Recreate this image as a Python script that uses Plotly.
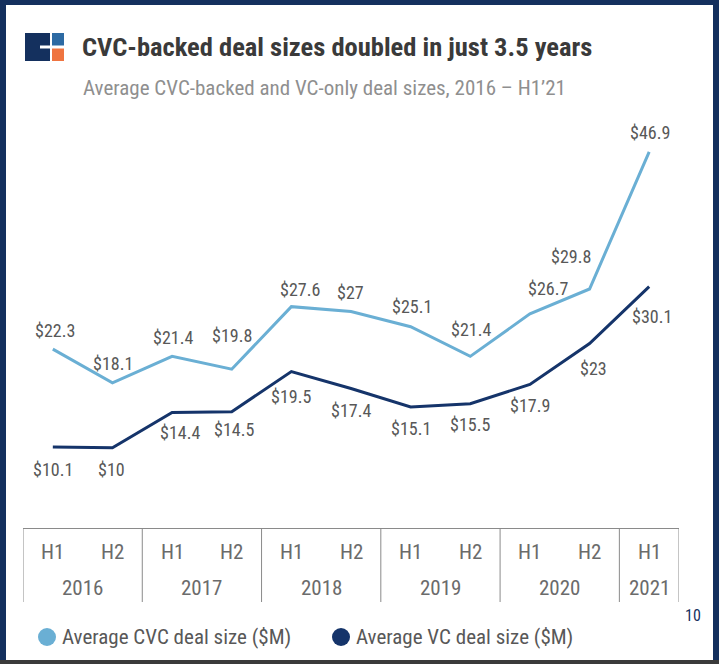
import plotly.graph_objects as go

# ---------------- data ----------------
halves = ["H1", "H2", "H1", "H2", "H1", "H2", "H1", "H2", "H1", "H2", "H1"]
years = ["2016", "2017", "2018", "2019", "2020", "2021"]
year_spans = [2, 2, 2, 2, 2, 1]          # number of half-years per year
cvc_values = [22.3, 18.1, 21.4, 19.8, 27.6, 27, 25.1, 21.4, 26.7, 29.8, 46.9]
vc_values = [10.1, 10, 14.4, 14.5, 19.5, 17.4, 15.1, 15.5, 17.9, 23, 30.1]
series_names = ["Average CVC deal size ($M)", "Average VC deal size ($M)"]
title_text = "CVC-backed deal sizes doubled in just 3.5 years"
subtitle_text = "Average CVC-backed and VC-only deal sizes, 2016 \u2013 H1\u201921"
page_number = "10"

# ---------------- styling ----------------
W, H = 719, 664
ML, MR, MT, MB = 23, 40, 110, 136
PW, PH = W - ML - MR, H - MT - MB
CVC_COLOR = "#6aafd4"
VC_COLOR = "#15346a"
NAVY = "#14305e"
TEXT_GRAY = "#585858"
LIGHT_GRAY = "#8f8f8f"
AXIS_GRAY = "#6b6b6b"
BOX_GRAY = "#8a8a8a"
FONT = "Roboto Condensed, Roboto, Arial Narrow, sans-serif"

# label offsets (pixels) relative to each point
cvc_off = [(2, -19), (1, -19), (1, -19), (0, -34), (9, -17), (-1, -19),
           (1, -20), (1, -27), (18, -25), (-19, -33), (1, -19)]
vc_off = [(0, 22), (-1, 22), (8, 20), (2, 18), (0, 25), (0, 22),
          (0, 22), (0, 21), (0, 21), (4, 25), (3, 30)]


def px(x):
    return (x - ML) / PW


def py(y):
    return (H - MB - y) / PH


xs = list(range(len(halves)))

fig = go.Figure()
fig.add_trace(go.Scatter(x=xs, y=cvc_values, mode="lines", name=series_names[0],
                         line=dict(color=CVC_COLOR, width=3), showlegend=False,
                         hoverinfo="skip"))
fig.add_trace(go.Scatter(x=xs, y=vc_values, mode="lines", name=series_names[1],
                         line=dict(color=VC_COLOR, width=3), showlegend=False,
                         hoverinfo="skip"))

annotations = []
shapes = []

# data labels
for vals, offs in ((cvc_values, cvc_off), (vc_values, vc_off)):
    for i, v in enumerate(vals):
        annotations.append(dict(x=i, y=v, xref="x", yref="y", text=f"${v:g}",
                                showarrow=False, xshift=offs[i][0], yshift=-offs[i][1],
                                font=dict(family=FONT, size=18, color=TEXT_GRAY)))

# half-year labels
for i, hname in enumerate(halves):
    annotations.append(dict(x=i, y=0, xref="x", yref="paper", text=hname,
                            showarrow=False, yanchor="middle", yshift=-24,
                            font=dict(family=FONT, size=21, color=AXIS_GRAY)))

# year labels and dividers
start = -0.5
bounds = [start]
for yname, span in zip(years, year_spans):
    center = start + span / 2
    annotations.append(dict(x=center, y=0, xref="x", yref="paper", text=yname,
                            showarrow=False, yanchor="middle", yshift=-60,
                            font=dict(family=FONT, size=21, color=AXIS_GRAY)))
    start += span
    bounds.append(start)
for b in bounds:
    shapes.append(dict(type="line", xref="x", yref="paper", x0=b, x1=b,
                       y0=0, y1=py(602), line=dict(color=BOX_GRAY, width=1)))

# frame / background
shapes.append(dict(type="rect", xref="paper", yref="paper", layer="below",
                   x0=px(6), x1=px(713), y0=py(660), y1=py(5),
                   fillcolor="white", line=dict(width=0)))
shapes.append(dict(type="rect", xref="paper", yref="paper", layer="above",
                   x0=px(0), x1=px(W), y0=py(H), y1=py(660),
                   fillcolor="#3a3a3a", line=dict(width=0)))

# logo
shapes.append(dict(type="rect", xref="paper", yref="paper", x0=px(25), x1=px(50),
                   y0=py(61), y1=py(33), fillcolor=NAVY, line=dict(width=0)))
shapes.append(dict(type="rect", xref="paper", yref="paper", x0=px(40), x1=px(52),
                   y0=py(48.5), y1=py(45.5), fillcolor="white", line=dict(width=0)))
shapes.append(dict(type="rect", xref="paper", yref="paper", x0=px(52), x1=px(64),
                   y0=py(45.5), y1=py(33), fillcolor="#2d6aa3", line=dict(width=0)))
shapes.append(dict(type="rect", xref="paper", yref="paper", x0=px(52), x1=px(64),
                   y0=py(61), y1=py(48.5), fillcolor="#ef7440", line=dict(width=0)))

# title, subtitle
annotations.append(dict(x=px(80), y=py(46), xref="paper", yref="paper", text=f"<b>{title_text}</b>",
                        showarrow=False, xanchor="left", yanchor="middle",
                        font=dict(family=FONT, size=26.5, color="#3a3a3a")))
annotations.append(dict(x=px(81), y=py(88), xref="paper", yref="paper", text=subtitle_text,
                        showarrow=False, xanchor="left", yanchor="middle",
                        font=dict(family=FONT, size=21, color=LIGHT_GRAY)))

# legend (custom)
for cx, color, name in ((47, CVC_COLOR, series_names[0]), (341, VC_COLOR, series_names[1])):
    shapes.append(dict(type="circle", xref="paper", yref="paper",
                       x0=px(cx - 9), x1=px(cx + 9), y0=py(646), y1=py(628),
                       fillcolor=color, line=dict(width=0)))
    annotations.append(dict(x=px(cx + 13), y=py(637), xref="paper", yref="paper", text=name,
                            showarrow=False, xanchor="left", yanchor="middle",
                            font=dict(family=FONT, size=21, color=TEXT_GRAY)))

# page number
annotations.append(dict(x=px(693), y=py(615), xref="paper", yref="paper", text=page_number,
                        showarrow=False, xanchor="center", yanchor="middle",
                        font=dict(family=FONT, size=16, color=NAVY)))

fig.update_layout(
    width=W, height=H,
    margin=dict(l=ML, r=MR, t=MT, b=MB, pad=0),
    paper_bgcolor=NAVY,
    plot_bgcolor="rgba(0,0,0,0)",
    showlegend=False,
    annotations=annotations,
    shapes=shapes,
    xaxis=dict(range=[-0.5, len(halves) - 0.5], showgrid=False, zeroline=False,
               showticklabels=False, ticks="", showline=True, linecolor=BOX_GRAY,
               linewidth=1, fixedrange=True),
    yaxis=dict(range=[0, PH / 8.02], showgrid=False, zeroline=False,
               showticklabels=False, ticks="", showline=False, fixedrange=True),
)

fig.write_html("out.html", config={"displayModeBar": False},
               post_script="document.body.style.margin='0';document.body.style.overflow='hidden';")
